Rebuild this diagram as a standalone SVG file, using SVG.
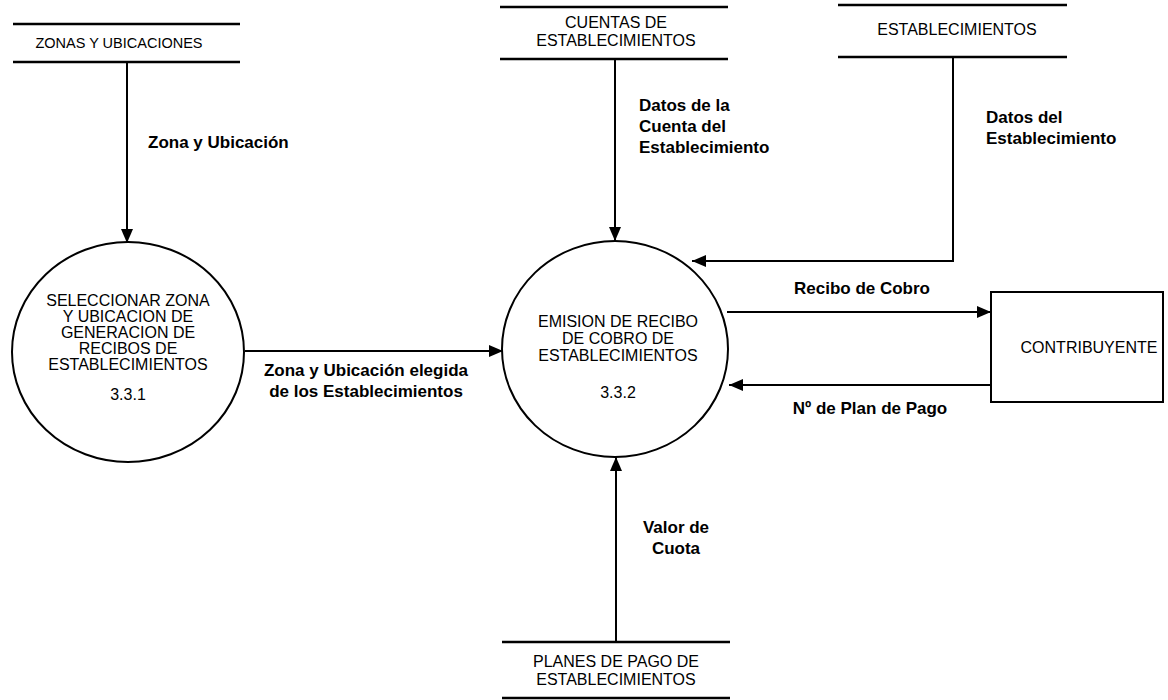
<svg xmlns="http://www.w3.org/2000/svg" width="1168" height="700" viewBox="0 0 1168 700">
  <defs>
    <marker id="arrow" viewBox="0 0 14 12" refX="14" refY="6" markerWidth="14" markerHeight="12" markerUnits="userSpaceOnUse" orient="auto">
      <path d="M0,0 L14,6 L0,12 Z" fill="#000"/>
    </marker>
    <style>
      .shape { fill: #fff; stroke: #000; stroke-width: 2; }
      .store { stroke: #000; stroke-width: 2.5; fill: none; }
      .flow { stroke: #000; stroke-width: 2; fill: none; marker-end: url(#arrow); }
      .node-text { font-family: "Liberation Sans", Arial, sans-serif; font-size: 16px; fill: #000; text-anchor: middle; }
      .label { font-family: "Liberation Sans", Arial, sans-serif; font-size: 17px; font-weight: bold; fill: #000; }
      .mid { text-anchor: middle; }
    </style>
  </defs>
  <rect width="1168" height="700" fill="#fff"/>

  <!-- Data stores -->
  <g id="store-zonas">
    <line class="store" x1="13" y1="24" x2="240" y2="24"/>
    <line class="store" x1="13" y1="62" x2="240" y2="62"/>
    <text class="node-text" x="119" y="48" style="font-size:14.5px">ZONAS Y UBICACIONES</text>
  </g>
  <g id="store-cuentas">
    <line class="store" x1="500" y1="7" x2="728" y2="7"/>
    <line class="store" x1="500" y1="59" x2="728" y2="59"/>
    <text class="node-text" x="616" y="28">CUENTAS DE</text>
    <text class="node-text" x="616" y="46">ESTABLECIMIENTOS</text>
  </g>
  <g id="store-establecimientos">
    <line class="store" x1="838" y1="5" x2="1067" y2="5"/>
    <line class="store" x1="838" y1="57" x2="1067" y2="57"/>
    <text class="node-text" x="957" y="35">ESTABLECIMIENTOS</text>
  </g>
  <g id="store-planes">
    <line class="store" x1="502" y1="642" x2="730" y2="642"/>
    <line class="store" x1="502" y1="698" x2="730" y2="698"/>
    <text class="node-text" x="616" y="667">PLANES DE PAGO DE</text>
    <text class="node-text" x="616" y="685">ESTABLECIMIENTOS</text>
  </g>

  <!-- Processes -->
  <g id="process-331">
    <ellipse class="shape" cx="128" cy="352" rx="116" ry="110"/>
    <text class="node-text" x="128" y="306">SELECCIONAR ZONA</text>
    <text class="node-text" x="128" y="322">Y UBICACION DE</text>
    <text class="node-text" x="128" y="338">GENERACION DE</text>
    <text class="node-text" x="128" y="354">RECIBOS DE</text>
    <text class="node-text" x="128" y="370">ESTABLECIMIENTOS</text>
    <text class="node-text" x="128" y="400">3.3.1</text>
  </g>
  <g id="process-332">
    <ellipse class="shape" cx="615" cy="349" rx="113" ry="108"/>
    <text class="node-text" x="618" y="327">EMISION DE RECIBO</text>
    <text class="node-text" x="618" y="344">DE COBRO DE</text>
    <text class="node-text" x="618" y="361">ESTABLECIMIENTOS</text>
    <text class="node-text" x="618" y="398">3.3.2</text>
  </g>

  <!-- External entity -->
  <g id="entity-contribuyente">
    <rect class="shape" x="991" y="292" width="172" height="110"/>
    <text class="node-text" x="1089" y="353">CONTRIBUYENTE</text>
  </g>

  <!-- Data flows -->
  <g id="connectors">
    <line class="flow" x1="127" y1="62" x2="127" y2="243"/>
    <line class="flow" x1="615" y1="59" x2="615" y2="241"/>
    <polyline class="flow" points="953,57 953,261 692,261"/>
    <line class="flow" x1="245" y1="351" x2="503" y2="351"/>
    <line class="flow" x1="727" y1="312" x2="991" y2="312"/>
    <line class="flow" x1="991" y1="385" x2="729" y2="385"/>
    <line class="flow" x1="616" y1="642" x2="616" y2="457"/>
  </g>

  <!-- Flow labels -->
  <g id="labels">
    <text class="label" x="148" y="148">Zona y Ubicación</text>
    <text class="label" x="639" y="111">Datos de la</text>
    <text class="label" x="639" y="132">Cuenta del</text>
    <text class="label" x="639" y="153">Establecimiento</text>
    <text class="label" x="986" y="123">Datos del</text>
    <text class="label" x="986" y="144">Establecimiento</text>
    <text class="label mid" x="862" y="294">Recibo de Cobro</text>
    <text class="label mid" x="870" y="414">Nº de Plan de Pago</text>
    <text class="label mid" x="366" y="376">Zona y Ubicación elegida</text>
    <text class="label mid" x="366" y="397">de los Establecimientos</text>
    <text class="label mid" x="676" y="533">Valor de</text>
    <text class="label mid" x="676" y="554">Cuota</text>
  </g>
</svg>
